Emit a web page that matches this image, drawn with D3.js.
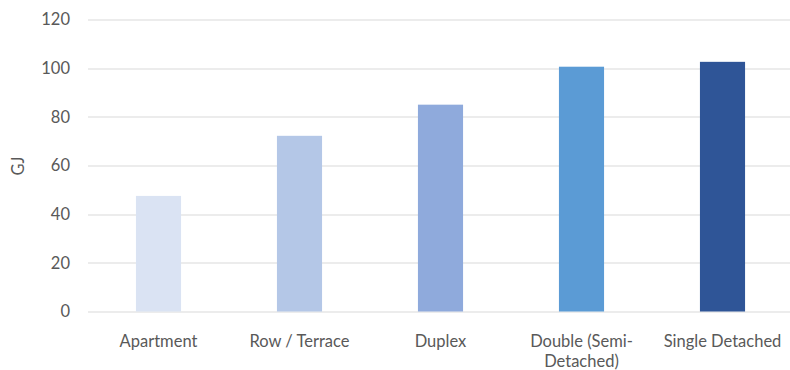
<!DOCTYPE html>
<html>
<head>
<meta charset="utf-8">
<script src="https://cdn.jsdelivr.net/npm/d3@7"></script>
<style>
  body { margin: 0; background: #fff; }
  text { font-family: Lato, "Noto Sans", sans-serif; fill: #595959; }
</style>
</head>
<body>
<div id="chart"></div>
<script>
// chart data
var categories = ["Apartment", "Row / Terrace", "Duplex", "Double (Semi-Detached)", "Single Detached"];
var labelLines = [["Apartment"], ["Row / Terrace"], ["Duplex"], ["Double (Semi-", "Detached)"], ["Single Detached"]];
var values = [47.5, 72.2, 85, 100.6, 102.6];
var barColors = ["#dae3f3", "#b4c7e7", "#8faadc", "#5b9bd5", "#2f5597"];
var yTicks = [0, 20, 40, 60, 80, 100, 120];

var width = 790, height = 370;
var margin = {top: 19.5, right: -3, bottom: 58.5, left: 88};
var innerW = width - margin.left - margin.right;
var innerH = height - margin.top - margin.bottom;
var fontSize = "16.5px";

var svg = d3.select("#chart").append("svg")
    .attr("width", width)
    .attr("height", height)
    .append("g")
    .attr("transform", "translate(" + margin.left + "," + margin.top + ")");

var x = d3.scaleBand()
    .domain(categories)
    .range([0, innerW])
    .paddingInner(0.68)
    .paddingOuter(0.34);

var y = d3.scaleLinear()
    .domain([0, 120])
    .range([innerH, 0]);

// gridlines
svg.selectAll(".grid")
    .data(yTicks)
    .enter()
    .append("line")
    .attr("class", "grid")
    .attr("x1", 0)
    .attr("x2", innerW)
    .attr("y1", function (d) { return Math.round(y(d)) + 0.5; })
    .attr("y2", function (d) { return Math.round(y(d)) + 0.5; })
    .attr("stroke", "#d9d9d9")
    .attr("stroke-width", 1);

// y tick labels
svg.selectAll(".ytick")
    .data(yTicks)
    .enter()
    .append("text")
    .attr("class", "ytick")
    .attr("x", -18)
    .attr("y", function (d) { return y(d); })
    .attr("dy", "0.35em")
    .attr("text-anchor", "end")
    .style("font-size", fontSize)
    .text(function (d) { return d; });

// bars
svg.selectAll(".bar")
    .data(values)
    .enter()
    .append("rect")
    .attr("class", "bar")
    .attr("x", function (d, i) { return x(categories[i]); })
    .attr("width", x.bandwidth())
    .attr("y", function (d) { return y(d); })
    .attr("height", function (d) { return innerH - y(d); })
    .attr("fill", function (d, i) { return barColors[i]; });

// category labels
var xl = svg.selectAll(".xlabel")
    .data(categories)
    .enter()
    .append("text")
    .attr("class", "xlabel")
    .attr("text-anchor", "middle")
    .attr("transform", function (d) {
        return "translate(" + (x(d) + x.bandwidth() / 2) + "," + (innerH + 35.5) + ")";
    })
    .style("font-size", fontSize);

xl.each(function (d, i) {
    var t = d3.select(this);
    labelLines[i].forEach(function (line, j) {
        t.append("tspan")
            .attr("x", 0)
            .attr("y", j * 20)
            .text(line);
    });
});

// y axis title
svg.append("text")
    .attr("transform", "translate(" + (18 - margin.left) + "," + (166 - margin.top) + ") rotate(-90)")
    .attr("text-anchor", "middle")
    .attr("dy", "0.35em")
    .style("font-size", fontSize)
    .text("GJ");
</script>
</body>
</html>
